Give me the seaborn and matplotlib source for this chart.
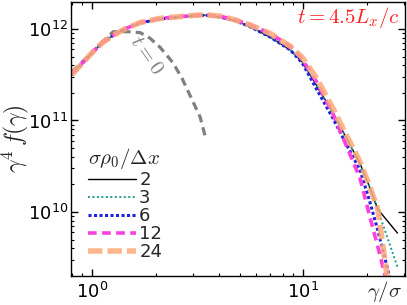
import numpy as np
import pandas as pd
import seaborn as sns
import matplotlib
matplotlib.use("Agg")
import matplotlib.pyplot as plt

# === Data (log10 of gamma^4 f(gamma)) ===
gam_mid = [0.8, 1.01, 1.12, 1.26, 1.43, 1.69, 2.10, 2.91, 3.43, 4.04, 4.76, 5.6, 7.0, 8.7]
logf_low = [11.50, 11.75, 11.85, 11.93, 12.00, 12.065, 12.11, 12.14, 12.15, 12.13, 12.09, 12.025, 11.91, 11.77]
logf_high = [11.50, 11.75, 11.85, 11.93, 12.00, 12.07, 12.115, 12.145, 12.155, 12.14, 12.10, 12.045, 11.95, 11.81]

gam_2 = [9.9, 11.6, 13.8, 16.2, 18.6, 20.6, 22.6, 28.0]
logf_2 = [11.64, 11.38, 11.09, 10.79, 10.53, 10.28, 10.03, 9.77]
gam_3 = [9.9, 11.6, 13.8, 16.2, 18.6, 20.6, 22.4, 28.0]
logf_3 = [11.64, 11.38, 11.09, 10.79, 10.53, 10.28, 10.05, 9.40]
gam_6 = [9.9, 11.6, 13.8, 16.2, 18.6, 20.6, 22.6, 25.0, 26.5]
logf_6 = [11.63, 11.34, 11.03, 10.72, 10.46, 10.13, 9.80, 9.40, 9.15]
gam_12 = [9.9, 11.6, 13.8, 16.2, 18.6, 20.6, 22.6, 24.5, 25.5]
logf_12 = [11.67, 11.42, 11.08, 10.70, 10.37, 9.97, 9.62, 9.30, 9.10]
gam_24 = [9.9, 11.6, 13.8, 16.2, 18.6, 20.6, 22.6, 25.0, 25.8]
logf_24 = [11.69, 11.46, 11.14, 10.82, 10.55, 10.29, 10.03, 9.30, 9.00]

# initial spectrum t=0
gam_t0 = [0.8, 1.01, 1.12, 1.26, 1.48, 1.69, 1.88, 2.10, 2.42, 2.67, 3.25, 3.47]
logf_t0 = [11.53, 11.75, 11.86, 11.97, 11.97, 11.96, 11.90, 11.80, 11.63, 11.46, 11.04, 10.79]

labels = ["2", "3", "6", "12", "24"]

# Build series
series = {
    "2": (gam_mid + gam_2, logf_low + logf_2),
    "3": (gam_mid + gam_3, logf_low + logf_3),
    "6": (gam_mid + gam_6, logf_low + logf_6),
    "12": (gam_mid + gam_12, logf_high + logf_12),
    "24": (gam_mid + gam_24, logf_high + logf_24),
}
styles = {
    "2": dict(color="black", lw=1.0, linestyle="-"),
    "3": dict(color="#1a9e8c", lw=1.4, linestyle=(0, (1, 1.3))),
    "6": dict(color="#2020e0", lw=2.2, linestyle=(0, (1, 0.8))),
    "12": dict(color="#ff40e0", lw=2.6, linestyle=(0, (2.4, 1.5))),
    "24": dict(color="#fdaa7a", lw=4.0, linestyle=(0, (2.6, 0.9)), alpha=0.85),
}

sns.set_style("ticks")
plt.rcParams["mathtext.fontset"] = "cm"
plt.rcParams["font.family"] = ["DejaVu Sans"]

fig = plt.figure(figsize=(4.07, 3.05), dpi=100)
ax = fig.add_axes([71 / 407, 29 / 305, 334 / 407, 274 / 305])
ax.set_xscale("log")
ax.set_yscale("log")

# t=0 curve
sns.lineplot(x=gam_t0, y=10 ** np.array(logf_t0), ax=ax, color="#808080", lw=2.3,
             linestyle=(0, (2.6, 1.6)), sort=False, estimator=None)

for lab in labels:
    g, lf = series[lab]
    sns.lineplot(x=g, y=10 ** np.array(lf), ax=ax, label=lab, sort=False,
                 estimator=None, **styles[lab])

ax.set_xlim(0.795, 30.4)
ax.set_ylim(2.0e9, 1.97e12)

ax.tick_params(which="both", direction="in", top=True, right=True, colors="black")
ax.tick_params(which="major", length=5, width=1.0, labelsize=13)
ax.tick_params(which="minor", length=2.5, width=0.8)
ax.tick_params(axis="x", pad=4)
ax.tick_params(axis="y", pad=2)
for s in ax.spines.values():
    s.set_linewidth(1.0)
    s.set_color("black")

ax.set_ylabel(r"$\gamma^4\,f(\gamma)$", fontsize=17, labelpad=-2)
ax.set_xlabel(r"$\gamma/\sigma$", fontsize=15)
ax.xaxis.set_label_coords(0.94, -0.012)

ax.text(0.985, 0.945, r"$t=4.5L_x/c$", color="#ff2020", fontsize=15,
        ha="right", va="center", transform=ax.transAxes)
ax.text((147 - 71) / 334, 1 - (55 - 2) / 274, r"$t=0$", color="#808080",
        fontsize=15, rotation=-55, ha="center", va="center", transform=ax.transAxes)

leg = ax.legend(title=r"$\sigma\rho_0/\Delta x$", frameon=False, loc="upper left",
                bbox_to_anchor=(0.05, 0.475), borderpad=0, borderaxespad=0,
                handlelength=2.7, handletextpad=0.15, labelspacing=0.0,
                fontsize=13, title_fontsize=15, alignment="left")

plt.savefig("out.png", dpi=100)
